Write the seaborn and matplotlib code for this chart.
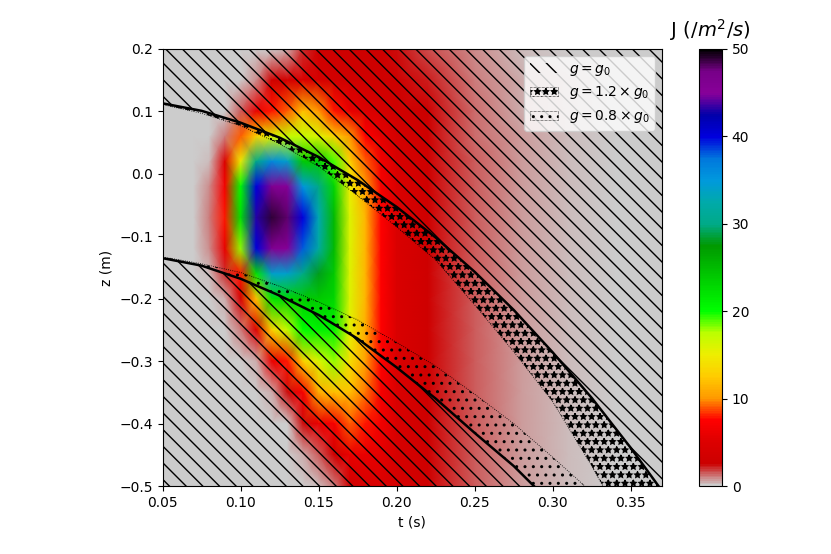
import numpy as np
import matplotlib
matplotlib.use("Agg")
import matplotlib.pyplot as plt
import seaborn as sns

# grid nodes of the flux map (time in s, height in m)
t_nodes = [0.05, 0.07, 0.08, 0.09, 0.10, 0.11, 0.12, 0.13, 0.14, 0.15, 0.16,
           0.17, 0.18, 0.19, 0.20, 0.22, 0.25, 0.28, 0.31, 0.34, 0.37]
z_nodes = [0.2, 0.15, 0.1, 0.06, 0.02, -0.02, -0.07, -0.12, -0.16, -0.2,
           -0.25, -0.3, -0.35, -0.4, -0.45, -0.5]

# J (/m^2/s), one profile over z_nodes per time node
flux = [
    [0] * 16,
    [0] * 16,
    [0, 0, 0, 0, 0.3, 0.8, 1.0, 0.8, 0.3, 0, 0, 0, 0, 0, 0, 0],
    [0, 0, 0, 1, 5, 7, 8, 6, 2, 0.5, 0, 0, 0, 0, 0, 0],
    [0, 0, 1.5, 9, 15, 20, 22, 18, 8, 4, 1, 0, 0, 0, 0, 0],
    [0, 0.8, 6, 13, 30, 40, 43, 40, 22, 12, 5, 0.5, 0, 0, 0, 0],
    [0, 3, 8, 16, 36, 46, 49, 46, 34, 22, 13, 6, 0.5, 0, 0, 0],
    [0.5, 3.5, 9, 17, 34, 45, 48, 45, 34, 23, 17, 8, 2.5, 0, 0, 0],
    [2, 4.5, 12, 17, 24, 35, 40, 38, 30, 24, 20, 13, 7, 2.5, 0.5, 0],
    [3, 4, 10, 16, 24, 30, 33, 32, 28, 24, 21, 16, 11, 6, 1.5, 0.2],
    [3, 3.5, 8, 13, 19, 23, 25, 25, 24, 23, 21, 18, 12, 7, 3, 1],
    [2.8, 3, 6, 10, 13, 15, 16, 16, 16, 16, 15.5, 14, 12, 9, 6, 3],
    [2.8, 3, 5, 7.5, 9, 10.5, 11.5, 11.5, 11.5, 11.5, 11, 10.5, 9.5, 8, 6, 4],
    [2.8, 3, 4, 5.5, 6.5, 7, 7.5, 7.5, 7.5, 7.5, 7.5, 7.5, 7, 6.5, 5.5, 4.5],
    [2.5, 2.8, 3.2, 3.8, 4.2, 4.5, 4.5, 4.5, 4.5, 4.5, 4.5, 4.5, 4.5, 4.3, 4, 3.8],
    [1.6, 2.3, 2.7, 2.9, 3, 3, 3, 3, 3, 3, 3, 3, 3, 3, 3, 3],
    [0.8, 1.0, 1.2, 1.3, 1.4, 1.4, 1.4, 1.4, 1.4, 1.4, 1.4, 1.5, 1.5, 1.5, 1.5, 1.5],
    [0.35, 0.45, 0.55, 0.6, 0.65, 0.65, 0.65, 0.65, 0.65, 0.65, 0.65, 0.7, 0.7, 0.7, 0.7, 0.7],
    [0.1, 0.2, 0.28, 0.32, 0.35, 0.35, 0.35, 0.35, 0.35, 0.35, 0.35, 0.35, 0.35, 0.35, 0.35, 0.35],
    [0, 0.05, 0.1, 0.12, 0.15, 0.15, 0.15, 0.15, 0.15, 0.15, 0.15, 0.15, 0.15, 0.15, 0.15, 0.15],
    [0, 0, 0.03, 0.05, 0.05, 0.05, 0.05, 0.05, 0.05, 0.05, 0.05, 0.05, 0.05, 0.05, 0.05, 0.05],
]

# trajectory limits for the different g values
t_curve = [0.05, 0.075, 0.10, 0.125, 0.15, 0.175, 0.20, 0.225, 0.25, 0.275,
           0.30, 0.325, 0.35, 0.375]
z_top_g0 = [0.113, 0.101, 0.082, 0.058, 0.027, -0.010, -0.053, -0.102, -0.157,
            -0.218, -0.286, -0.359, -0.439, -0.525]
z_top_g12 = [0.111, 0.097, 0.077, 0.048, 0.012, -0.035, -0.085, -0.138, -0.21,
             -0.285, -0.365, -0.468, -0.58, -0.70]
z_bot_g0 = [-0.135, -0.147, -0.168, -0.195, -0.226, -0.264, -0.31, -0.36, -0.415,
            -0.468, -0.53, -0.61, -0.70, -0.79]
z_bot_g08 = [-0.133, -0.144, -0.158, -0.18, -0.205, -0.234, -0.27, -0.308, -0.353,
             -0.40, -0.454, -0.51, -0.58, -0.65]

sns.set_style("ticks", {"axes.edgecolor": "black", "text.color": "black",
                        "xtick.color": "black", "ytick.color": "black",
                        "axes.labelcolor": "black"})
plt.rcParams["font.family"] = ["DejaVu Sans"]
plt.rcParams["hatch.linewidth"] = 1.0

fig = plt.figure(figsize=(8.31, 5.54), dpi=100)
ax = fig.add_axes([162.5 / 831, 68 / 554, 499.5 / 831, 437 / 554])
cax = fig.add_axes([699 / 831, 68 / 554, 23 / 831, 437 / 554])

T, Z = np.meshgrid(t_nodes, z_nodes)
J = np.array(flux, dtype=float).T
mesh = ax.pcolormesh(T, Z, J, shading="gouraud", cmap="nipy_spectral_r",
                     vmin=0, vmax=50)

# hatched (forbidden) zones
ax.fill_between(t_curve, z_top_g0, 0.3, facecolor="none", edgecolor="k",
                hatch="\\\\", linewidth=0, label=r"$g = g_0$")
ax.fill_between(t_curve, -0.9, z_bot_g0, facecolor="none", edgecolor="k",
                hatch="\\\\", linewidth=0)
ax.fill_between(t_curve, z_top_g12, z_top_g0, facecolor="none", edgecolor="k",
                hatch="**", linewidth=0.6, linestyle=":", label=r"$g = 1.2 \times g_0$")
ax.fill_between(t_curve, z_bot_g0, z_bot_g08, facecolor="none", edgecolor="k",
                hatch="..", linewidth=0.6, linestyle=":", label=r"$g = 0.8 \times g_0$")

sns.lineplot(x=t_curve, y=z_top_g0, color="k", linewidth=1.8, sort=False,
             estimator=None, legend=False, ax=ax)
sns.lineplot(x=t_curve, y=z_bot_g0, color="k", linewidth=1.8, sort=False,
             estimator=None, legend=False, ax=ax)

ax.set_xlim(0.05, 0.37)
ax.set_ylim(-0.5, 0.2)
ax.set_xlabel("t (s)")
ax.set_ylabel("z (m)")
ax.legend(loc="upper right")

cbar = fig.colorbar(mesh, cax=cax)
cbar.ax.set_title(r"J ($/m^2/s$)", fontsize=14, pad=9)

fig.savefig("out.png", dpi=100)
